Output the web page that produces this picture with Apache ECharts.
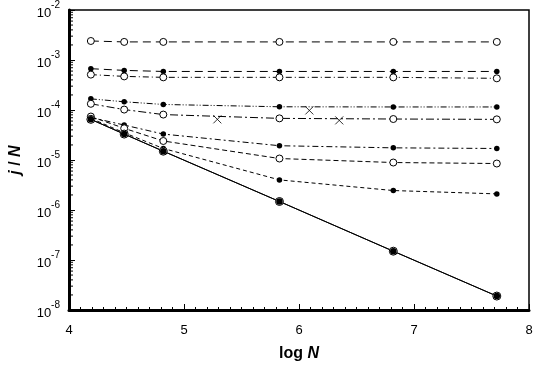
<!DOCTYPE html>
<html><head><meta charset="utf-8">
<script src="https://cdn.jsdelivr.net/npm/echarts@6/dist/echarts.min.js"></script>
<style>html,body{margin:0;padding:0;background:#fff}#c{width:536px;height:367px}</style>
</head><body><div id="c"></div>
<script>
const logN = [4.19, 4.48, 4.82, 5.83, 6.82, 7.72];
const s1 = [2.4e-3, 2.3e-3, 2.3e-3, 2.3e-3, 2.3e-3, 2.3e-3];
const s2 = [6.7e-4, 6.2e-4, 5.9e-4, 5.9e-4, 5.9e-4, 5.9e-4];
const s3 = [5.1e-4, 4.7e-4, 4.5e-4, 4.5e-4, 4.5e-4, 4.3e-4];
const s4 = [1.67e-4, 1.46e-4, 1.29e-4, 1.16e-4, 1.15e-4, 1.15e-4];
const s5 = [1.33e-4, 1.02e-4, 8.1e-5, 6.8e-5, 6.6e-5, 6.5e-5];
const s6 = [7.1e-5, 5.0e-5, 3.3e-5, 1.93e-5, 1.75e-5, 1.7e-5];
const s7 = [7.4e-5, 4.3e-5, 2.4e-5, 1.07e-5, 8.9e-6, 8.5e-6];
const s8 = [6.8e-5, 3.5e-5, 1.7e-5, 4.0e-6, 2.45e-6, 2.1e-6];
const s9 = [6.5e-5, 3.3e-5, 1.5e-5, 1.48e-6, 1.5e-7, 1.9e-8];
const crossX = [5.29, 6.09, 6.35];
const crossY = [6.5e-5, 9.8e-5, 6.2e-5];
const xTicks = [4, 5, 6, 7, 8];
const yExponents = [-8, -7, -6, -5, -4, -3, -2];
const yMinorTicks = [];
for (let e = -8; e < -2; e++) for (let k = 2; k <= 9; k++) yMinorTicks.push(k * Math.pow(10, e));

const pairs = ys => logN.map((x, i) => [x, ys[i]]);
const openSym = {symbol: 'circle', symbolSize: 7, itemStyle: {color: '#fff', borderColor: '#000', borderWidth: 1}};
const fillSym = {symbol: 'circle', symbolSize: 5.5, itemStyle: {color: '#000', borderColor: '#000', borderWidth: 0}};
function line(ys, sym, dash, extra) {
  return Object.assign({
    type: 'line', data: pairs(ys), showSymbol: true, silent: true,
    lineStyle: {color: '#000', width: 1, type: dash},
  }, sym, extra || {});
}
const chart = echarts.init(document.getElementById('c'), null, {renderer: 'canvas'});
chart.setOption({
  animation: false,
  backgroundColor: '#fff',
  grid: {left: 67, right: 7, top: 10, bottom: 50, show: true, borderColor: '#000', borderWidth: 1.5, backgroundColor: 'transparent'},
  xAxis: {
    type: 'value', min: 4, max: 8, interval: 1,
    axisLine: {show: true, lineStyle: {color: '#000', width: 3}},
    axisTick: {show: true, inside: true, length: 6, lineStyle: {color: '#000', width: 1}},
    minorTick: {show: true, splitNumber: 10, length: 3, lineStyle: {color: '#000', width: 1}},
    splitLine: {show: false},
    axisLabel: {color: '#000', fontFamily: 'Liberation Sans', fontSize: 13, margin: 14,
      formatter: v => xTicks.includes(v) ? String(v) : ''},
    name: '{a|log }{b|N}', nameLocation: 'middle', nameGap: 36,
    nameTextStyle: {rich: {
      a: {fontFamily: 'Liberation Sans', fontSize: 16, fontWeight: 'bold', color: '#000'},
      b: {fontFamily: 'Liberation Sans', fontSize: 16, fontWeight: 'bold', fontStyle: 'italic', color: '#000'}}}
  },
  yAxis: {
    type: 'log', logBase: 10, min: 1e-8, max: 1e-2,
    axisLine: {show: true, lineStyle: {color: '#000', width: 3}},
    axisTick: {show: true, inside: true, length: 6, lineStyle: {color: '#000', width: 1}},
    splitLine: {show: false},
    axisLabel: {color: '#000', margin: 9,
      formatter: v => { const e = Math.round(Math.log10(v)); return yExponents.includes(e) ? '{b|10}{s|' + e + '}' : ''; },
      rich: {
        b: {fontFamily: 'Liberation Sans', fontSize: 13, color: '#000', verticalAlign: 'bottom', padding: [6, 0, 0, 0]},
        s: {fontFamily: 'Liberation Sans', fontSize: 10, color: '#000', verticalAlign: 'top', padding: [0, 0, 6, 0]}
      }},
    name: '{a|j}{b| / }{a|N}', nameLocation: 'middle', nameGap: 45,
    nameTextStyle: {rich: {
      a: {fontFamily: 'Liberation Sans', fontSize: 16, fontWeight: 'bold', fontStyle: 'italic', color: '#000'},
      b: {fontFamily: 'Liberation Sans', fontSize: 16, fontWeight: 'bold', color: '#000'}}}
  },
  series: [
    {type: 'custom', silent: true, z: 5, data: yMinorTicks.map(v => [4, v]),
      renderItem: (params, api) => {
        const p = api.coord([api.value(0), api.value(1)]);
        return {type: 'line', shape: {x1: p[0], y1: p[1], x2: p[0] + 4, y2: p[1]}, style: {stroke: '#000', lineWidth: 1}};
      }},
    line(s1, openSym, [8, 5]),
    line(s2, fillSym, [8, 5]),
    line(s3, openSym, [6, 3, 1, 3]),
    line(s4, fillSym, [6, 2, 1, 2, 1, 2]),
    line(s5, openSym, [8, 3, 2, 3]),
    line(s6, fillSym, [6, 3, 2, 3]),
    line(s7, openSym, [5, 3]),
    line(s8, fillSym, [4, 3]),
    line(s9, {symbol: 'circle', symbolSize: 8, itemStyle: {color: '#fff', borderColor: '#000', borderWidth: 1}}, 'solid'),
    line(s9, {symbol: 'circle', symbolSize: 6.5, itemStyle: {color: '#000'}}, 'solid'),
    {type: 'scatter', silent: true, data: crossX.map((x, i) => [x, crossY[i]]),
      symbol: 'path://M0,0L10,10M10,0L0,10', symbolSize: 8,
      itemStyle: {color: 'none', borderColor: '#000', borderWidth: 1}}
  ]
});
</script></body></html>
